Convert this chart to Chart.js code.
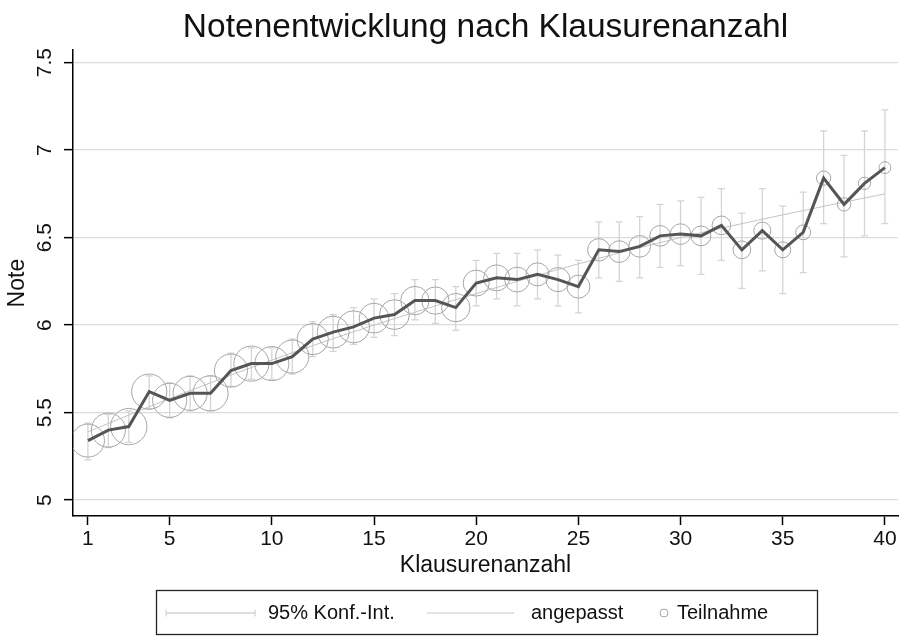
<!DOCTYPE html>
<html>
<head>
<meta charset="utf-8">
<script src="https://cdn.jsdelivr.net/npm/chart.js@4.4.1/dist/chart.umd.min.js"></script>
<style>
  html, body { margin: 0; padding: 0; background: #fff; }
  canvas { display: block; }
</style>
</head>
<body>
<canvas id="chart" width="903" height="636"></canvas>
<script>
const FONT = "'Liberation Sans', Arial, Helvetica, sans-serif";

// Klausurenanzahl (x) and mean grade per count
const klausuren = [1, 2, 3, 4, 5, 6, 7, 8, 9, 10, 11, 12, 13, 14, 15, 16, 17, 18, 19, 20,
  21, 22, 23, 24, 25, 26, 27, 28, 29, 30, 31, 32, 33, 34, 35, 36, 37, 38, 39, 40];
const note = [5.34, 5.40, 5.42, 5.62, 5.57, 5.61, 5.61, 5.74, 5.78, 5.78,
  5.82, 5.92, 5.96, 5.99, 6.04, 6.06, 6.14, 6.14, 6.10, 6.24,
  6.27, 6.26, 6.29, 6.26, 6.22, 6.43, 6.42, 6.45, 6.51, 6.52,
  6.51, 6.57, 6.43, 6.54, 6.43, 6.53, 6.84, 6.69, 6.81, 6.90];

// 95% confidence interval
const ciLow = [5.23, 5.30, 5.33, 5.52, 5.47, 5.51, 5.51, 5.65, 5.69, 5.69,
  5.72, 5.82, 5.85, 5.89, 5.93, 5.94, 6.03, 6.01, 5.97, 6.11,
  6.15, 6.11, 6.15, 6.11, 6.07, 6.27, 6.25, 6.27, 6.33, 6.34,
  6.29, 6.37, 6.21, 6.31, 6.18, 6.30, 6.58, 6.39, 6.51, 6.58];
const ciHigh = [5.44, 5.49, 5.51, 5.71, 5.67, 5.71, 5.71, 5.84, 5.87, 5.87,
  5.92, 6.02, 6.06, 6.10, 6.15, 6.18, 6.26, 6.26, 6.22, 6.37,
  6.41, 6.41, 6.43, 6.40, 6.37, 6.59, 6.59, 6.62, 6.69, 6.71,
  6.73, 6.78, 6.64, 6.78, 6.68, 6.76, 7.11, 6.97, 7.11, 7.23];

// participants per count (marker area)
const teilnahme = [940, 1000, 1130, 1060, 1000, 1000, 1060, 940, 1060, 1000,
  940, 840, 880, 880, 760, 760, 690, 640, 690, 580,
  580, 530, 455, 500, 455, 430, 405, 405, 365, 365,
  335, 300, 270, 250, 220, 190, 175, 155, 130, 120];

// fitted values ("angepasst")
const fitX = [1, 5, 10, 15, 20, 25, 30, 35, 40];
const fitY = [5.39, 5.58, 5.80, 6.00, 6.18, 6.35, 6.50, 6.63, 6.75];

const xTicks = [1, 5, 10, 15, 20, 25, 30, 35, 40];
const yTicks = [5, 5.5, 6, 6.5, 7, 7.5];

const CI_COLOR = '#d4d4d4';
const FIT_COLOR = '#c4c4c4';
const CIRCLE_COLOR = '#a6a6a6';
const LINE_COLOR = '#555555';

const pts = (xs, ys) => xs.map((x, i) => ({ x, y: ys[i] }));

// error bars with caps, drawn through the scales
const ciPlugin = {
  id: 'ciBars',
  beforeDatasetsDraw(chart) {
    const { ctx, scales: { x, y } } = chart;
    ctx.save();
    ctx.strokeStyle = CI_COLOR;
    ctx.lineWidth = 1.3;
    klausuren.forEach((k, i) => {
      const px = x.getPixelForValue(k);
      const lo = y.getPixelForValue(ciLow[i]);
      const hi = y.getPixelForValue(ciHigh[i]);
      ctx.beginPath();
      ctx.moveTo(px, lo); ctx.lineTo(px, hi);
      ctx.moveTo(px - 3.5, lo); ctx.lineTo(px + 3.5, lo);
      ctx.moveTo(px - 3.5, hi); ctx.lineTo(px + 3.5, hi);
      ctx.stroke();
    });
    ctx.restore();
  }
};

// boxed legend at the bottom
const legendPlugin = {
  id: 'boxLegend',
  afterDraw(chart) {
    const ctx = chart.ctx;
    const cy = 613;
    ctx.save();
    ctx.strokeStyle = '#222';
    ctx.lineWidth = 1.3;
    ctx.strokeRect(156.5, 590.5, 661, 44);

    ctx.strokeStyle = CI_COLOR;
    ctx.lineWidth = 1.3;
    ctx.beginPath();
    ctx.moveTo(166, cy); ctx.lineTo(255, cy);
    ctx.moveTo(166, cy - 3.5); ctx.lineTo(166, cy + 3.5);
    ctx.moveTo(255, cy - 3.5); ctx.lineTo(255, cy + 3.5);
    ctx.stroke();

    ctx.strokeStyle = FIT_COLOR;
    ctx.lineWidth = 1;
    ctx.beginPath();
    ctx.moveTo(427, cy); ctx.lineTo(514, cy);
    ctx.stroke();

    ctx.strokeStyle = CIRCLE_COLOR;
    ctx.beginPath();
    ctx.arc(664, cy, 4, 0, Math.PI * 2);
    ctx.stroke();

    ctx.fillStyle = '#111';
    ctx.font = '20px ' + FONT;
    ctx.textBaseline = 'middle';
    ctx.textAlign = 'left';
    ctx.fillText('95% Konf.-Int.', 268, cy);
    ctx.fillText('angepasst', 531, cy);
    ctx.fillText('Teilnahme', 677, cy);
    ctx.restore();
  }
};

new Chart(document.getElementById('chart'), {
  type: 'scatter',
  data: {
    datasets: [
      {
        label: 'Note',
        data: pts(klausuren, note),
        showLine: true,
        borderColor: LINE_COLOR,
        borderWidth: 3,
        pointRadius: 0,
        fill: false,
      },
      {
        label: 'Teilnahme',
        data: pts(klausuren, note),
        showLine: false,
        pointStyle: 'circle',
        pointRadius: teilnahme.map(n => Math.sqrt(n) * 0.54),
        backgroundColor: 'rgba(0,0,0,0)',
        borderColor: CIRCLE_COLOR,
        borderWidth: 1,
      },
      {
        label: 'angepasst',
        data: pts(fitX, fitY),
        showLine: true,
        borderColor: FIT_COLOR,
        borderWidth: 1,
        pointRadius: 0,
        cubicInterpolationMode: 'monotone',
      }
    ]
  },
  options: {
    responsive: false,
    animation: false,
    events: [],
    devicePixelRatio: 1,
    layout: { autoPadding: false, padding: { left: 0, right: 5, top: 0, bottom: 54 } },
    scales: {
      x: {
        type: 'linear',
        min: 0.27,
        max: 40.64,
        afterBuildTicks: (s) => { s.ticks = xTicks.map(v => ({ value: v })); },
        afterFit: (s) => { s.height = 66; s.paddingLeft = 0; s.paddingRight = 0; },
        grid: { drawOnChartArea: false, drawTicks: true, tickLength: 9, tickColor: '#000', tickWidth: 1.5 },
        border: { color: '#000', width: 1.5 },
        ticks: { color: '#111', font: { size: 21, family: FONT }, padding: 2, maxRotation: 0, autoSkip: false },
        title: { display: true, text: 'Klausurenanzahl', color: '#111', font: { size: 23, family: FONT }, padding: { top: 0, bottom: 3 } }
      },
      y: {
        type: 'linear',
        min: 4.909,
        max: 7.571,
        afterBuildTicks: (s) => { s.ticks = yTicks.map(v => ({ value: v })); },
        afterFit: (s) => { s.width = 73; s.paddingTop = 0; s.paddingBottom = 0; },
        grid: { color: '#dcdcdc', lineWidth: 1.3, drawTicks: true, tickLength: 9, tickColor: '#000', tickWidth: 1.5 },
        border: { color: '#000', width: 1.5 },
        ticks: {
          color: '#111', font: { size: 21, family: FONT },
          minRotation: 90, maxRotation: 90, crossAlign: 'center', padding: 4,
          callback: (v) => String(v)
        },
        title: { display: true, text: 'Note', color: '#111', font: { size: 23, family: FONT }, padding: { top: 4, bottom: 0 } }
      }
    },
    plugins: {
      legend: { display: false },
      tooltip: { enabled: false },
      title: {
        display: true,
        fullSize: false,
        text: 'Notenentwicklung nach Klausurenanzahl',
        color: '#111',
        font: { size: 33.5, family: FONT, weight: 'normal' },
        padding: { top: 8, bottom: 2 }
      }
    }
  },
  plugins: [ciPlugin, legendPlugin]
});
</script>
</body>
</html>
